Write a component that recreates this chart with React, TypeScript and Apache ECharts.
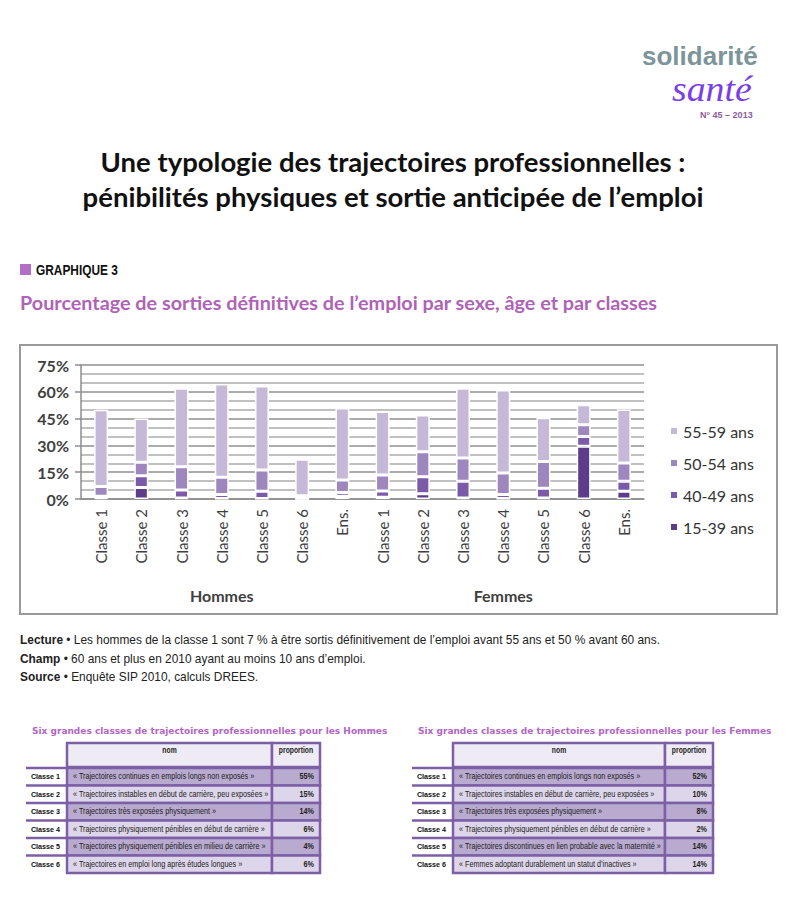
import React, { useEffect, useRef } from "react";
import * as echarts from "echarts";

// ---- Data ----
const categories = [
  "Classe 1", "Classe 2", "Classe 3", "Classe 4", "Classe 5", "Classe 6", "Ens.",
  "Classe 1", "Classe 2", "Classe 3", "Classe 4", "Classe 5", "Classe 6", "Ens.",
];
const groups = ["Hommes", "Femmes"];
const ageBands = ["15-39 ans", "40-49 ans", "50-54 ans", "55-59 ans"];
const age15_39 = [0.5, 6.5, 0.5, 0.3, 0.3, 0, 1.5, 1, 3, 0.5, 0.3, 0.5, 29.5, 4.3];
const age40_49 = [1, 6.5, 4.5, 2.2, 4, 0.3, 2.2, 3.5, 9.5, 9.5, 2.2, 5.5, 5.5, 5.6];
const age50_54 = [5.5, 7.5, 13, 9.7, 12, 1.5, 7, 9, 14, 13, 12, 15, 6.5, 10.2];
const age55_59 = [43, 24.5, 44, 52.2, 47, 20.5, 40.2, 35.5, 20.5, 39, 46.5, 24.5, 11.3, 30];
const bandColors = ["#5d3d89", "#7b5aa9", "#9d87be", "#c6b9d8"];
const yTicks = [0, 15, 30, 45, 60, 75];

const titleLines = [
  "Une typologie des trajectoires professionnelles :",
  "pénibilités physiques et sortie anticipée de l’emploi",
];
const subtitle = "Pourcentage de sorties définitives de l’emploi par sexe, âge et par classes";
const footLines = [
  ["Lecture", " • Les hommes de la classe 1 sont 7 % à être sortis définitivement de l’emploi avant 55 ans et 50 % avant 60 ans."],
  ["Champ", " • 60 ans et plus en 2010 ayant au moins 10 ans d’emploi."],
  ["Source", " • Enquête SIP 2010, calculs DREES."],
];

const tableRowLabels = ["Classe 1", "Classe 2", "Classe 3", "Classe 4", "Classe 5", "Classe 6"];
const hommesNoms = [
  "« Trajectoires continues en emplois longs non exposés »",
  "« Trajectoires instables en début de carrière, peu exposées »",
  "« Trajectoires très exposées physiquement »",
  "« Trajectoires physiquement pénibles en début de carrière »",
  "« Trajectoires physiquement pénibles en milieu de carrière »",
  "« Trajectoires en emploi long après études longues »",
];
const hommesProps = ["55%", "15%", "14%", "6%", "4%", "6%"];
const femmesNoms = [
  "« Trajectoires continues en emplois longs non exposés »",
  "« Trajectoires instables en début de carrière, peu exposées »",
  "« Trajectoires très exposées physiquement »",
  "« Trajectoires physiquement pénibles en début de carrière »",
  "« Trajectoires discontinues en lien probable avec la maternité »",
  "« Femmes adoptant durablement un statut d’inactives »",
];
const femmesProps = ["52%", "10%", "8%", "2%", "14%", "14%"];

const PURPLE = "#7d5fa6";
const SANS = "Liberation Sans";
const NARROW = 0.85;

function buildTable(x0: number, nomW: number, title: string, noms: string[], props: string[]) {
  const els: any[] = [];
  const labelW = 41;
  const propW = 48;
  const headY = 743;
  const headH = 24;
  const rowY0 = 768;
  const rowH = 17.5;
  const nomX = x0 + labelW;
  const propX = nomX + nomW;
  els.push({
    type: "text", x: x0 + 6, y: 731,
    style: { text: title, fill: "#b166c4", fontFamily: "DejaVu Sans", fontWeight: "bold", fontSize: 9, align: "left", verticalAlign: "middle" },
  });
  els.push({ type: "rect", shape: { x: nomX, y: headY, width: nomW, height: headH }, style: { fill: "#efebf4", stroke: PURPLE, lineWidth: 2.5 } });
  els.push({ type: "rect", shape: { x: propX, y: headY, width: propW, height: headH }, style: { fill: "#efebf4", stroke: PURPLE, lineWidth: 2.5 } });
  els.push({ type: "text", x: nomX + nomW / 2, y: headY + 7, scaleX: 0.8, style: { text: "nom", fill: "#222", fontFamily: SANS, fontWeight: "bold", fontSize: 8.5, align: "center", verticalAlign: "middle" } });
  els.push({ type: "text", x: propX + propW / 2, y: headY + 7, scaleX: 0.8, style: { text: "proportion", fill: "#222", fontFamily: SANS, fontWeight: "bold", fontSize: 8.5, align: "center", verticalAlign: "middle" } });
  noms.forEach((nom, i) => {
    const y = rowY0 + i * rowH;
    const fill = i % 2 === 0 ? "#b9aad0" : "#ddd5e9";
    els.push({ type: "rect", shape: { x: nomX, y, width: nomW, height: rowH }, style: { fill, stroke: PURPLE, lineWidth: 2.5 } });
    els.push({ type: "rect", shape: { x: propX, y, width: propW, height: rowH }, style: { fill, stroke: PURPLE, lineWidth: 2.5 } });
    els.push({ type: "line", shape: { x1: x0, y1: y, x2: nomX, y2: y }, style: { stroke: PURPLE, lineWidth: 2.5 } });
    els.push({ type: "text", x: x0 + labelW / 2 - 1, y: y + rowH / 2, scaleX: 0.9, style: { text: tableRowLabels[i], fill: "#111", fontFamily: SANS, fontWeight: "bold", fontSize: 8, align: "center", verticalAlign: "middle" } });
    els.push({ type: "text", x: nomX + 6, y: y + rowH / 2, scaleX: NARROW, style: { text: nom, fill: "#222", fontFamily: SANS, fontSize: 8.5, align: "left", verticalAlign: "middle" } });
    els.push({ type: "text", x: propX + propW - 6, y: y + rowH / 2, scaleX: NARROW, style: { text: props[i], fill: "#222", fontFamily: SANS, fontWeight: "bold", fontSize: 8.5, align: "right", verticalAlign: "middle" } });
  });
  return els;
}

export default function App() {
  const ref = useRef<HTMLDivElement>(null);
  useEffect(() => {
    document.body.style.margin = "0";
    const chart = echarts.init(ref.current!, null, { renderer: "svg" });
    const seriesData = [age15_39, age40_49, age50_54, age55_59];
    const graphics: any[] = [
      // frame of chart
      { type: "rect", z: -10, shape: { x: 20, y: 345, width: 757, height: 269 }, style: { fill: "none", stroke: "#9a9a9a", lineWidth: 2 } },
      // logo
      { type: "text", x: 642, y: 56, style: { text: "solidarité", fill: "#7d959a", fontFamily: SANS, fontWeight: "bold", fontSize: 26, lineHeight: 22, align: "left", verticalAlign: "middle" } },
      { type: "text", x: 672, y: 88.5, scaleX: 1.05, style: { text: "santé", fill: "#7a3ee6", fontFamily: "Liberation Serif", fontStyle: "italic", fontSize: 36, lineHeight: 26, align: "left", verticalAlign: "middle" } },
      { type: "text", x: 700, y: 114.5, style: { text: "N° 45 – 2013", fill: "#8e5c9e", fontFamily: SANS, fontWeight: "bold", fontSize: 9, lineHeight: 9, align: "left", verticalAlign: "middle" } },
      // titles
      { type: "text", x: 393, y: 161, style: { text: titleLines[0], fill: "#111", fontFamily: "Lato", fontWeight: "bold", fontSize: 27.5, align: "center", verticalAlign: "middle" } },
      { type: "text", x: 393, y: 196, style: { text: titleLines[1], fill: "#111", fontFamily: "Lato", fontWeight: "bold", fontSize: 27.5, align: "center", verticalAlign: "middle" } },
      { type: "rect", shape: { x: 20, y: 264, width: 11, height: 11 }, style: { fill: "#b36fc4" } },
      { type: "text", x: 36, y: 270, scaleX: 0.85, style: { text: "GRAPHIQUE 3", fill: "#111", fontFamily: SANS, fontWeight: "bold", fontSize: 14, align: "left", verticalAlign: "middle" } },
      { type: "text", x: 20, y: 302, style: { text: subtitle, fill: "#b062b8", fontFamily: "Lato", fontWeight: "bold", fontSize: 19.8, align: "left", verticalAlign: "middle" } },
      ...footLines.map((l, i) => ({
        type: "text", x: 20, y: 640 + i * 18.5, scaleX: 0.93,
        style: {
          text: `{b|${l[0]}}{n|${l[1]}}`, fill: "#222", fontFamily: SANS, fontSize: 12.8, align: "left", verticalAlign: "middle",
          rich: { b: { fontWeight: "bold", fontFamily: SANS, fontSize: 12.8, fill: "#222" }, n: { fontFamily: SANS, fontSize: 12.8, fill: "#222" } },
        },
      })),
      ...buildTable(26, 205, "Six grandes classes de trajectoires professionnelles pour les Hommes", hommesNoms, hommesProps),
      ...buildTable(412, 212, "Six grandes classes de trajectoires professionnelles pour les Femmes", femmesNoms, femmesProps),
    ];
    const option: any = {
      animation: false,
      backgroundColor: "#ffffff",
      textStyle: { fontFamily: "Lato" },
      graphic: { elements: graphics },
      grid: { left: 81, top: 365, width: 563, height: 134, containLabel: false },
      legend: {
        orient: "vertical", left: 664, top: 418, itemWidth: 8, itemHeight: 8, itemGap: 16, icon: "rect",
        data: [...ageBands].reverse(),
        textStyle: { fontSize: 16, color: "#333", fontFamily: "Lato" },
      },
      xAxis: [
        {
          type: "category", data: categories.map((_, i) => String(i)), position: "bottom",
          axisLine: { lineStyle: { color: "#8c8c8c", width: 1.5 } },
          axisTick: { length: 71, lineStyle: { color: "#8c8c8c", width: 1.5 } },
          axisLabel: { rotate: 90, margin: 10, fontSize: 15, color: "#404040", fontFamily: "Lato", formatter: (_v: string, i: number) => categories[i] },
          splitLine: { show: false },
        },
        {
          type: "category", data: groups, position: "bottom",
          axisLine: { show: false },
          axisTick: { length: 108, lineStyle: { color: "#8c8c8c", width: 1.5 } },
          axisLabel: { margin: 88, fontSize: 16, fontWeight: "bold", color: "#404040", fontFamily: "Lato" },
          splitLine: { show: false },
        },
      ],
      yAxis: {
        type: "value", min: yTicks[0], max: yTicks[yTicks.length - 1], interval: 15,
        axisLine: { show: true, lineStyle: { color: "#8c8c8c", width: 1.5 } },
        axisTick: { show: true, length: 6, lineStyle: { color: "#8c8c8c", width: 1.5 } },
        axisLabel: { formatter: "{value}%", fontSize: 16, fontWeight: "bold", color: "#404040", margin: 12, fontFamily: "Lato" },
        splitLine: { show: true, lineStyle: { color: "#8f8f8f", width: 1.5 } },
        minorTick: { show: false, splitNumber: 3 },
        minorSplitLine: { show: true, lineStyle: { color: "#ababab", width: 1.5 } },
      },
      series: ageBands.map((name, k) => ({
        name, type: "bar", stack: "total", barWidth: 14, xAxisIndex: 0,
        data: seriesData[k],
        itemStyle: { color: bandColors[k], borderColor: "#ffffff", borderWidth: 1.5 },
      })),
    };
    chart.setOption(option);
    return () => chart.dispose();
  }, []);
  return <div ref={ref} style={{ position: "absolute", left: 0, top: 0, width: 800, height: 900, background: "#fff" }} />;
}
